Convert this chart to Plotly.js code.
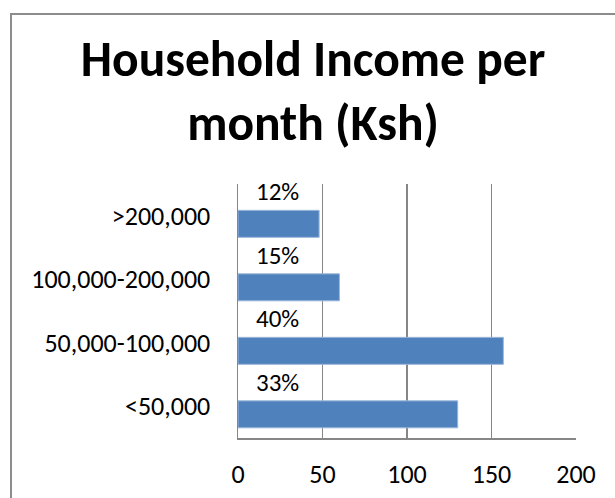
<!DOCTYPE html>
<html><head><meta charset="utf-8">
<script src="https://cdn.plot.ly/plotly-3.0.1.min.js"></script>
<style>
html,body{margin:0;padding:0;background:#fff;}
#chart{position:absolute;left:0;top:0;width:615px;height:498px;}
#frame{position:absolute;left:10px;top:13px;width:610px;height:490px;border-left:2px solid #8c8c8c;border-top:2px solid #8c8c8c;pointer-events:none;}
</style></head>
<body>
<div id="chart"></div>
<div id="frame"></div>
<script>
const categories = ['<50,000', '50,000-100,000', '100,000-200,000', '>200,000'];
const counts = [130, 157, 60, 48];
const percentLabels = ['33%', '40%', '15%', '12%'];
const xTicks = [0, 50, 100, 150, 200];

const font = 'Carlito, Lato, "Open Sans", sans-serif';

const trace = {
  type: 'bar', orientation: 'h',
  y: categories.map((c, i) => i), x: counts,
  width: 0.425, offset: -0.34,
  marker: {color: '#4F81BD', line: {color: '#9ab6d9', width: 1}},
  hoverinfo: 'skip'
};

const annotations = percentLabels.map((t, i) => ({
  x: 0, y: i, xref: 'x', yref: 'y', text: t, showarrow: false,
  xanchor: 'center', yanchor: 'middle', xshift: 39, yshift: 24,
  font: {family: font, size: 25, color: '#000'}
}));

const layout = {
  width: 615, height: 498,
  margin: {l: 238, r: 39, t: 184, b: 60},
  paper_bgcolor: '#fff', plot_bgcolor: '#fff',
  showlegend: false,
  title: {
    text: '<b>Household Income per<br>month (Ksh)</b>',
    x: 0.509, xref: 'container', xanchor: 'center',
    y: 0.848, yref: 'container', yanchor: 'top',
    font: {family: font, size: 49.5, color: '#000'}
  },
  xaxis: {
    range: [0, 200], tickvals: xTicks, ticktext: xTicks.map(String),
    showgrid: true, gridcolor: '#868686', gridwidth: 1.5,
    zeroline: false, showline: true, linecolor: '#868686', linewidth: 1.5,
    ticks: '', ticklabelstandoff: 12,
    tickfont: {family: font, size: 26, color: '#000'}, fixedrange: true
  },
  yaxis: {
    range: [-0.5, 3.5], tickvals: [0, 1, 2, 3], ticktext: categories,
    showgrid: false, zeroline: false, showline: true, linecolor: '#868686', linewidth: 1.5,
    ticks: '', ticklabelstandoff: 21,
    tickfont: {family: font, size: 26, color: '#000'}, fixedrange: true
  },
  annotations: annotations
};

Plotly.newPlot('chart', [trace], layout, {displayModeBar: false, staticPlot: true});
</script>
</body></html>
